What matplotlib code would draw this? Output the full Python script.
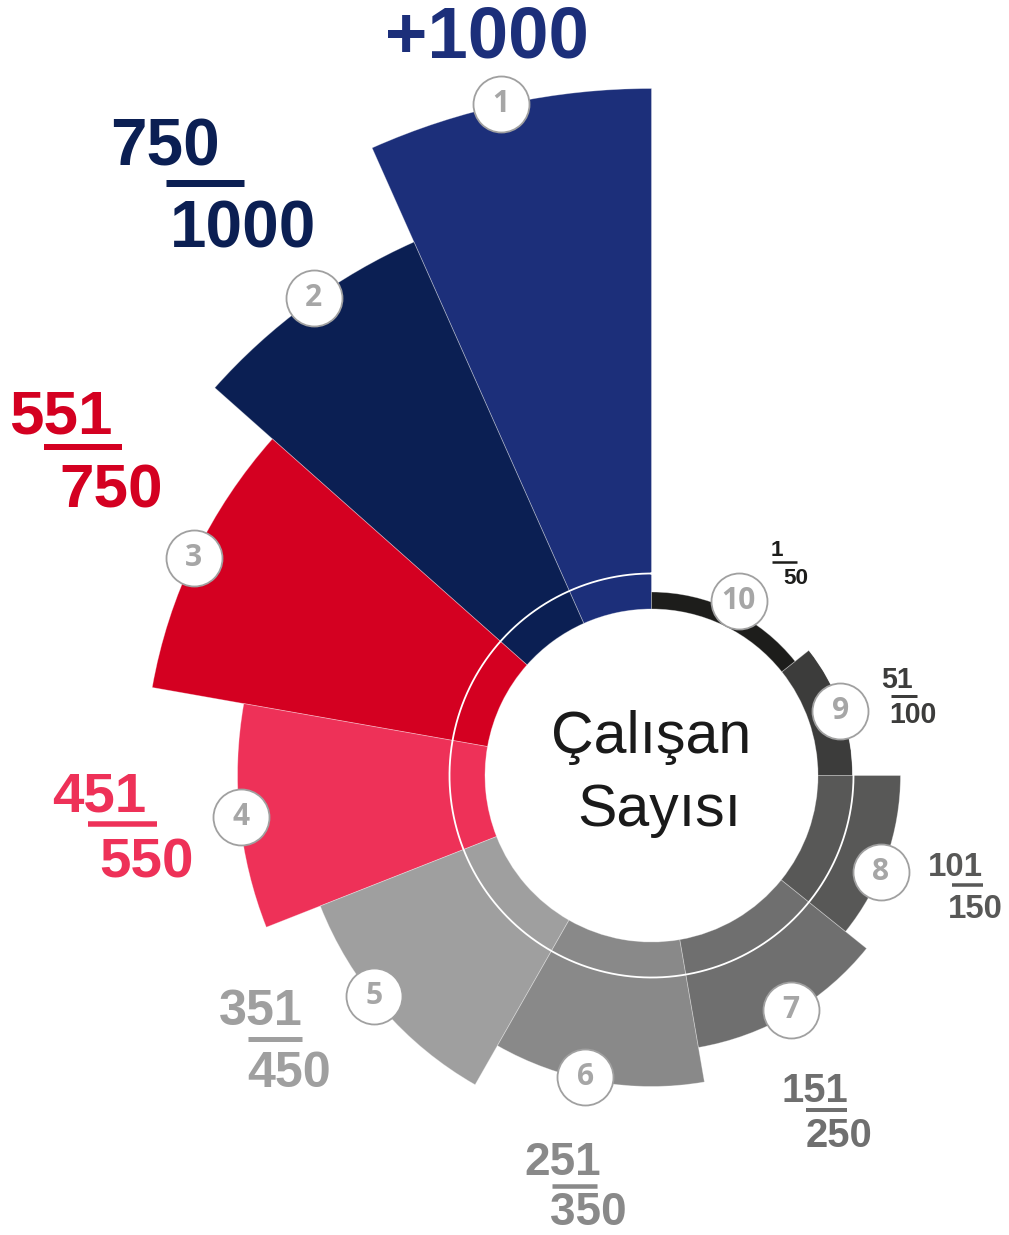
import numpy as np
import matplotlib
matplotlib.use('Agg')
import matplotlib.pyplot as plt

# dilimler 1..10 (saat yönünde tepeden: 10, 9, ..., 1)
groups = ['1', '2', '3', '4', '5', '6', '7', '8', '9', '10']
numerators = ['+1000', '750', '551', '451', '351', '251', '151', '101', '51', '1']
denominators = ['', '1000', '750', '550', '450', '350', '250', '150', '100', '50']
spans = [24, 24.4, 31.6, 31.5, 38.8, 39.5, 41.4, 38.8, 38.5, 51.5]   # derece
radii = [687, 584, 507, 414, 356, 311, 276, 249, 201, 183.5]
colors = ['#1c2f7a', '#0b1f53', '#d40021', '#ee3158', '#9f9f9f',
          '#898989', '#6f6f6f', '#585857', '#3c3c3b', '#1d1d1b']

W, H, DPI = 1009, 1235, 100
cx, cy = 651.5, 775.5      # merkez (piksel)
R = 700
inner = 166.5
ring = 202

def pt(px):
    return px * 72.0 / DPI

fig = plt.figure(figsize=(W / DPI, H / DPI), dpi=DPI)
fig.patch.set_facecolor('white')

ax = fig.add_axes([(cx - R) / W, (H - cy - R) / H, 2 * R / W, 2 * R / H], projection='polar')
ax.set_theta_zero_location('N')
ax.set_theta_direction(-1)
ax.set_ylim(0, R)
ax.axis('off')

# açı: 10 tepeden başlar, saat yönünde 1'e kadar
starts = np.zeros(10)
acc = 0.0
for i in range(9, -1, -1):
    starts[i] = acc
    acc += spans[i]
mids = np.radians(starts + np.array(spans) / 2)
widths = np.radians(spans)
heights = np.array(radii) - inner

ax.bar(mids, heights, width=widths, bottom=inner, color=colors,
       edgecolor=(1, 1, 1, 0.35), linewidth=0.6, align='center')

t = np.linspace(0, 2 * np.pi, 400)
ax.plot(t, np.full_like(t, ring), color='white', lw=1.3)

# numara rozetleri (açı derece saat yönünde, yarıçap piksel)
badge_pos = [(347.4, 688.5), (324.7, 584.5), (295.4, 507), (264.2, 412.5), (231.5, 355),
             (192.4, 309), (149.3, 273), (112.9, 249), (71.2, 199.5), (26.5, 195.5)]
for i in range(10):
    th, rb = np.radians(badge_pos[i][0]), badge_pos[i][1]
    ax.plot(th, rb, 'o', ms=pt(56), mfc='white', mec='#a0a0a0', mew=1.3,
            clip_on=False, zorder=5)
    ax.text(th, rb, groups[i], ha='center', va='center', fontsize=pt(30),
            color='#a6a6a6', fontweight='bold', family='Open Sans', zorder=6)

# üst katman (piksel koordinatları)
ov = fig.add_axes([0, 0, 1, 1])
ov.set_xlim(0, W)
ov.set_ylim(H, 0)
ov.axis('off')

ov.text(651, 753, 'Çalışan', ha='center', va='baseline', fontsize=pt(59),
        color='#1a1a1a', family='Liberation Sans')
ov.text(659.5, 825.5, 'Sayısı', ha='center', va='baseline', fontsize=pt(59),
        color='#1a1a1a', family='Liberation Sans')

# etiket yerleşimi: font px, pay x/y, payda x/y, çizgi x0/x1/y, kalınlık
layout = [
    (72.6, 487, 57, None, None, None, None, None, None),
    (65.6, 110, 165, 170, 247, 166, 244, 183, 7),
    (62, 9.5, 433, 59, 507, 44, 122, 447, 6),
    (56.5, 52, 811, 99.7, 878, 88, 157, 824, 5.5),
    (50.3, 219, 1025, 247, 1087, 248, 302, 1039, 5),
    (46, 524.6, 1175, 550, 1225, 552, 597, 1186, 4.5),
    (40, 782, 1102, 805.5, 1147, 806, 847, 1110, 4),
    (33, 928, 876, 947.5, 918, 952, 983, 885, 3.5),
    (28.5, 881, 688, 889, 723, 891, 917, 696, 3),
    (22.5, 771, 556, 783, 584, 772, 797, 562, 2.5),
]

for i in range(10):
    fs, nx, ny, dx, dy, bx0, bx1, by, th = layout[i]
    if denominators[i] == '':
        ov.text(nx, ny, numerators[i], ha='center', va='baseline', fontsize=pt(fs),
                color=colors[i], fontweight='bold', family='Liberation Sans')
        continue
    ov.text(nx, ny, numerators[i], ha='left', va='baseline', fontsize=pt(fs),
            color=colors[i], fontweight='bold', family='Liberation Sans')
    ov.text(dx, dy, denominators[i], ha='left', va='baseline', fontsize=pt(fs),
            color=colors[i], fontweight='bold', family='Liberation Sans')
    ov.plot([bx0, bx1], [by, by], color=colors[i], lw=pt(th), solid_capstyle='butt')

fig.savefig('out.png', dpi=DPI)
